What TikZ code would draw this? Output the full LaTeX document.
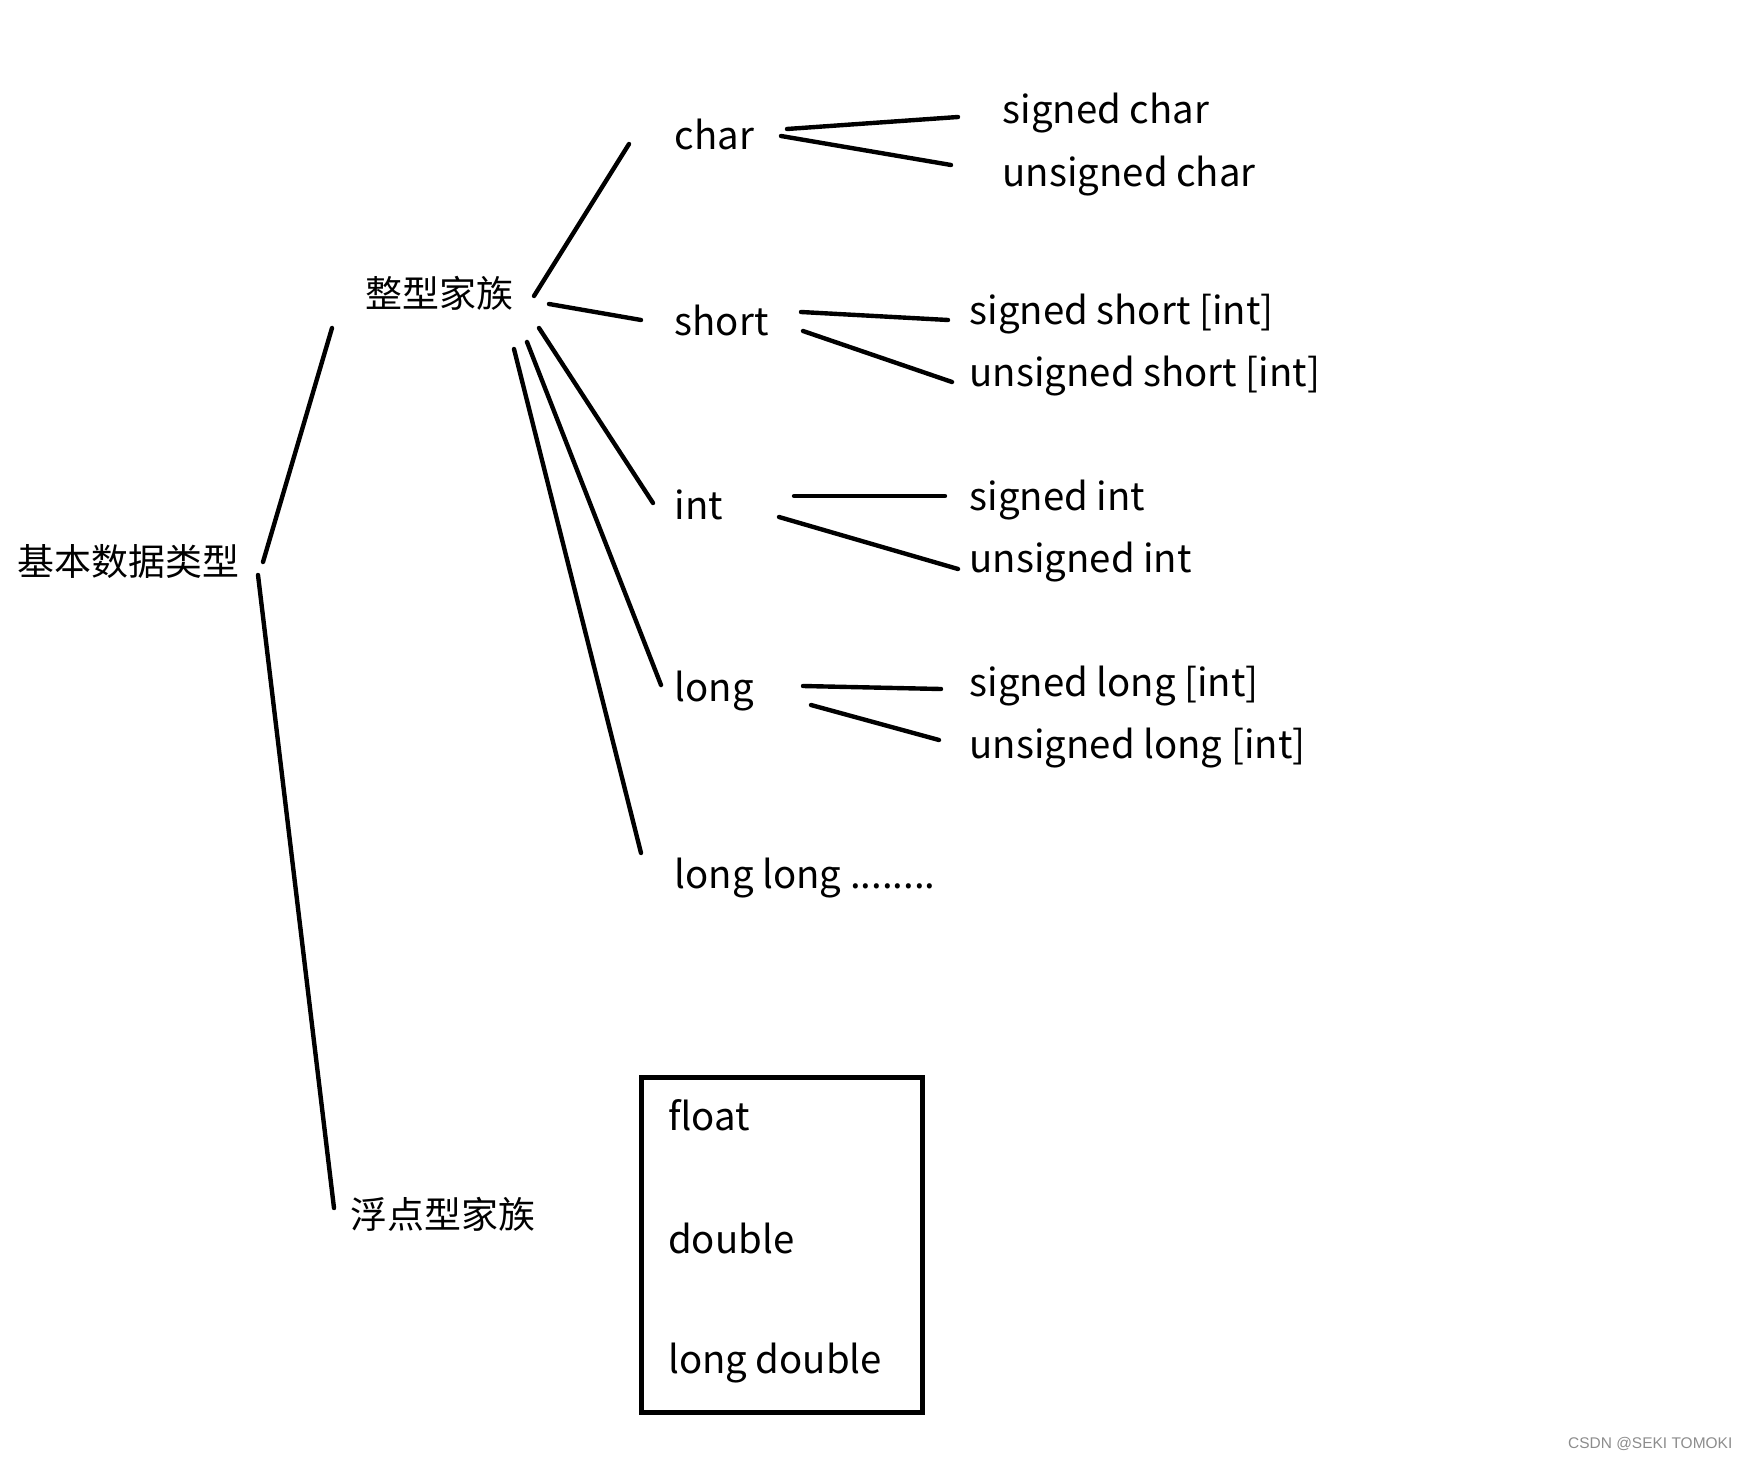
\documentclass[tikz,border=0pt]{standalone}
\usepackage{fontspec}
\setmainfont{Noto Sans CJK SC}
\newfontfamily\markfont{Liberation Sans}
\usepackage{tikz}

\tikzset{
  lbl/.style={anchor=west,inner sep=0pt,font=\fontsize{10.5pt}{12pt}\selectfont},
  typ/.style={lbl,font=\fontsize{10.9pt}{12pt}\selectfont},
  link/.style={line width=1.25pt,line cap=round},
}

\begin{document}
\begin{tikzpicture}[x=0.01cm,y=-0.01cm]
  \useasboundingbox (0,0) rectangle (1746,1461);

  % tree labels
  \node[lbl] (root) at (17,562) {基本数据类型};
  \node[lbl] (zx) at (365,293) {整型家族};
  \node[lbl] (fd) at (350,1214) {浮点型家族};
  \node[typ] (char) at (674,134) {char};
  \node[typ] (short) at (674,320) {short};
  \node[typ] (int) at (674,505) {int};
  \node[typ] (long) at (674,691) {long};
  \node[typ] (llong) at (674,878) {long long ........};
  \node[typ] (schar) at (1002,113) {signed char};
  \node[typ] (uchar) at (1002,176) {unsigned char};
  \node[typ] (sshort) at (969,314) {signed short [int]};
  \node[typ] (ushort) at (969,376) {unsigned short [int]};
  \node[typ] (sint) at (969,500) {signed int};
  \node[typ] (uint) at (969,562) {unsigned int};
  \node[typ] (slong) at (969,686) {signed long [int]};
  \node[typ] (ulong) at (969,748) {unsigned long [int]};

  % floating point box
  \node[draw,line width=1.4pt,minimum width=2.8cm,minimum height=3.34cm,inner sep=0pt] (fbox) at (782,1245) {};
  \node[typ] (float) at ([shift={(28,40)}]fbox.north west) {float};
  \node[typ] (double) at ([shift={(28,163)}]fbox.north west) {double};
  \node[typ] (ldouble) at ([shift={(28,288)}]fbox.north west) {long double};

  % hand drawn strokes
  \draw[link] ([shift={(246,0)}]root.west) -- ([shift={(-33,35)}]zx.west);
  \draw[link] ([shift={(241,13)}]root.west) -- ([shift={(-16,-6)}]fd.west);
  \draw[link] ([shift={(169,3)}]zx.west) -- ([shift={(-45,10)}]char.west);
  \draw[link] ([shift={(184,11)}]zx.west) -- ([shift={(-33,0)}]short.west);
  \draw[link] ([shift={(174,35)}]zx.west) -- ([shift={(-21,-2)}]int.west);
  \draw[link] ([shift={(162,49)}]zx.west) -- ([shift={(-13,-6)}]long.west);
  \draw[link] ([shift={(149,56)}]zx.west) -- ([shift={(-33,-25)}]llong.west);
  \draw[link] ([shift={(113,-5)}]char.west) -- ([shift={(-44,4)}]schar.west);
  \draw[link] ([shift={(107,2)}]char.west) -- ([shift={(-51,-11)}]uchar.west);
  \draw[link] ([shift={(127,-8)}]short.west) -- ([shift={(-21,6)}]sshort.west);
  \draw[link] ([shift={(129,11)}]short.west) -- ([shift={(-17,6)}]ushort.west);
  \draw[link] ([shift={(120,-9)}]int.west) -- ([shift={(-24,-4)}]sint.west);
  \draw[link] ([shift={(105,12)}]int.west) -- ([shift={(-11,7)}]uint.west);
  \draw[link] ([shift={(129,-5)}]long.west) -- ([shift={(-28,3)}]slong.west);
  \draw[link] ([shift={(137,14)}]long.west) -- ([shift={(-30,-8)}]ulong.west);

  % watermark
  \node[anchor=east,inner sep=0pt,text=black!45,font=\markfont\fontsize{4.4pt}{5pt}\selectfont] (mark) at (1733,1444) {CSDN @SEKI TOMOKI};
\end{tikzpicture}
\end{document}
